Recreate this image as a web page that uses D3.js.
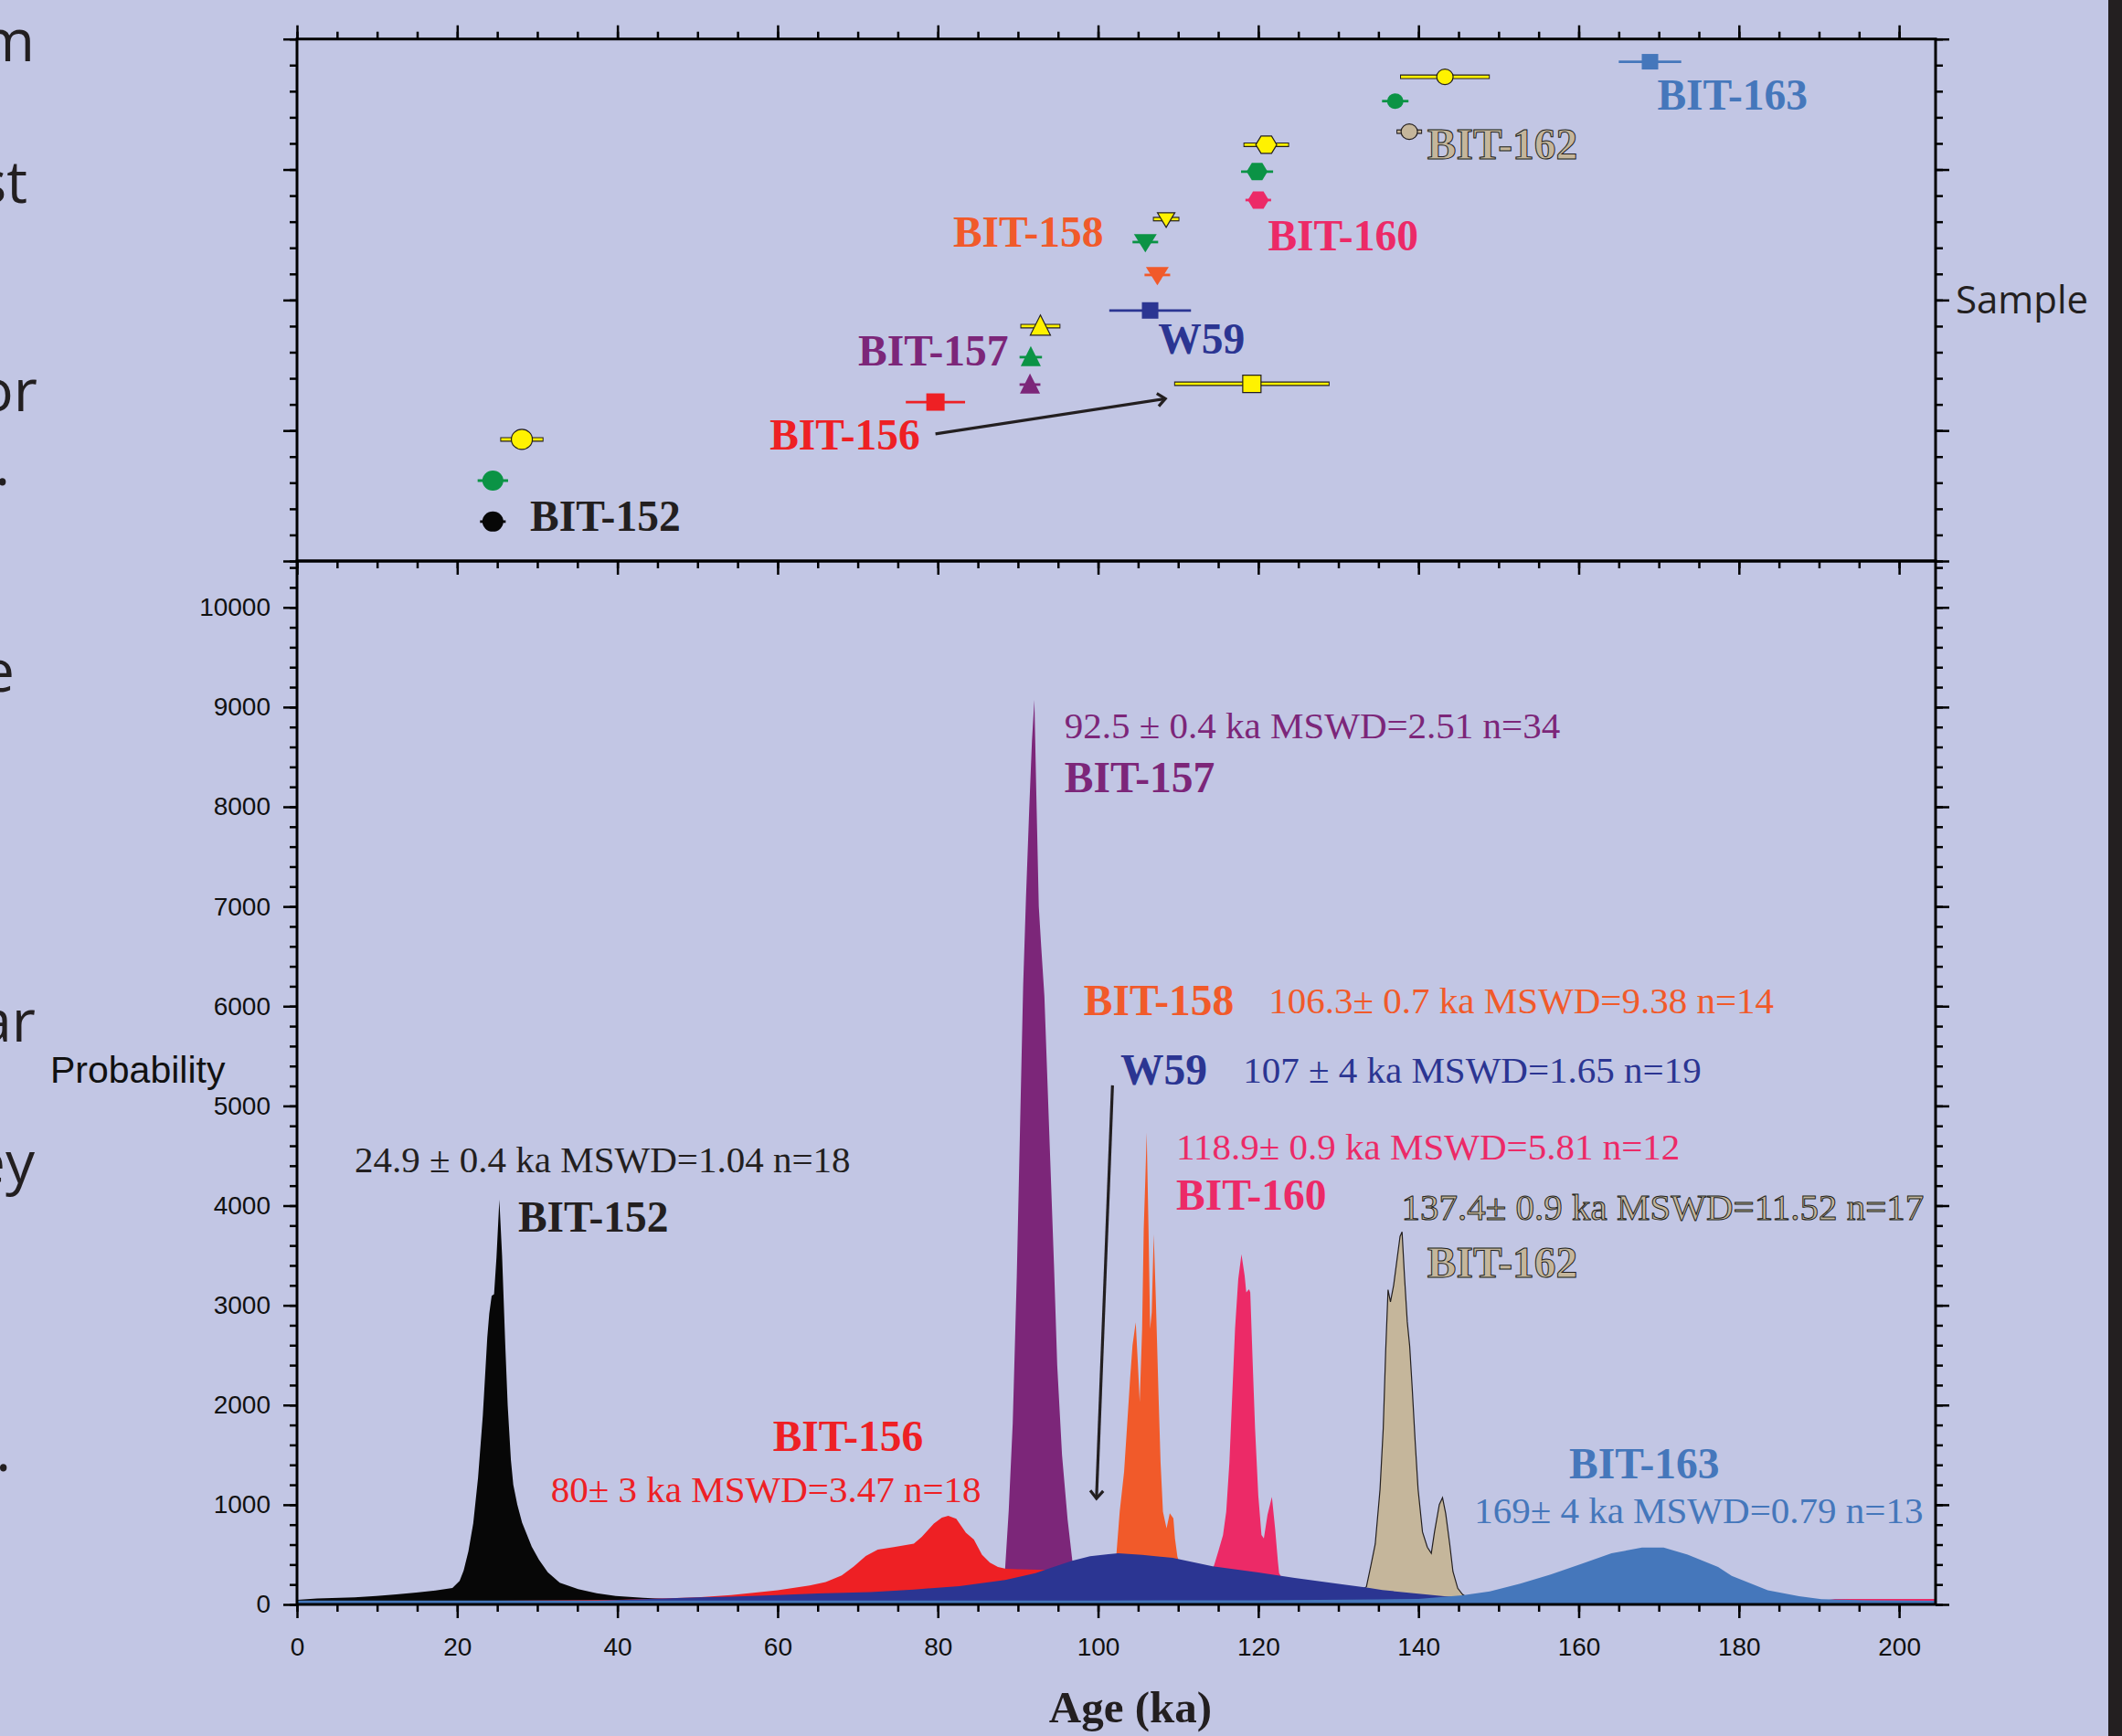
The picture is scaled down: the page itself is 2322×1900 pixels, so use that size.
<!DOCTYPE html>
<html><head><meta charset="utf-8">
<script src="https://cdn.jsdelivr.net/npm/d3@7"></script>
<style>
html,body{margin:0;padding:0;background:#c2c6e4;}
svg{display:block;}
</style></head><body>
<svg id="chart" width="2322" height="1900"></svg>
<script>
// ================= DATA =================
const xMajorTicks = [0,20,40,60,80,100,120,140,160,180,200];
const yMajorTicks = [0,1000,2000,3000,4000,5000,6000,7000,8000,9000,10000];
const sampleNames = ["BIT-152","BIT-156","BIT-157","W59","BIT-158","BIT-160","BIT-162","BIT-163"];

// probability density curves (age ka, probability)
const age152  = [0,2.5,7.2,9.9,12.4,14.9,17.3,19.4,20.3,20.8,21.4,22.0,22.6,23.2,23.75,24.0,24.3,24.6,24.9,25.26,25.6,26.0,26.3,26.7,27.0,27.5,28.1,29.3,30.2,31.3,32.8,35.1,37.4,39.8,43.2,46.2,55,70,100,204.55];
const prob152 = [45,60,70,84,100,119,140,165,235,340,533,814,1270,1900,2673,2917,3094,3112,3480,4060,3500,2600,2000,1450,1200,1000,820,580,450,323,218,154,112,84,67,56,40,25,15,5];

const age156  = [0,20,40,50,54.2,60,64,66,68,69.5,71,72.5,74.5,77,78,79.5,80.5,81.3,82.3,83.5,84.5,85.5,86.5,87.5,88.5,90,93.7,96,100,110,120,140,170,204.55];
const prob156 = [30,35,45,70,94,143,190,225,290,380,485,550,575,610,677,810,870,890,860,720,650,500,420,375,358,352,345,310,250,150,90,50,40,35];

const age157  = [0,80,86,87.5,88.4,88.85,89.35,89.85,90.25,90.65,91.0,91.4,91.75,92.05,92.3,92.6,92.9,93.3,93.7,94.1,94.5,94.9,95.5,96.2,96.8,97.5,98.5,100,110,204.55];
const prob157 = [0,0,20,150,361,945,1822,3284,4745,6206,7083,7960,8662,9071,8100,7000,6600,6100,5200,4300,3400,2400,1500,850,430,250,120,40,0,0];

const age158  = [0,95,100,101.5,102.3,102.7,103.25,103.6,104.0,104.3,104.7,104.96,105.2,105.5,105.7,105.9,106.07,106.3,106.5,106.7,106.95,107.2,107.55,107.8,108.1,108.55,108.95,109.4,109.6,109.9,111,115,204.55];
const prob158 = [0,0,50,200,513,930,1330,1764,2264,2597,2830,2430,2030,2763,3763,4263,4730,3763,2763,2930,3712,3098,2096,1430,930,763,913,863,663,480,200,0,0];

const age160  = [0,108,112,113.5,114.5,115.0,115.6,116.0,116.4,116.75,117.1,117.5,117.9,118.3,118.5,118.85,119.0,119.3,119.6,120.0,120.4,120.7,121.15,121.7,122.1,122.45,122.6,124,127,189,190,192,204.55];
const prob160 = [0,0,60,200,397,530,697,930,1430,2096,2763,3263,3513,3296,3130,3162,3130,2430,1764,1096,697,663,897,1080,763,430,313,120,0,0,30,55,55];

const age162  = [0,128,131,133.5,134.06,134.6,135.2,135.6,135.9,136.2,136.5,136.9,137.3,137.7,137.95,138.25,138.6,138.9,139.2,139.6,139.95,140.5,141.1,141.6,142.0,142.6,143.0,143.4,143.9,144.3,144.9,145.5,147,150];
const prob162 = [0,0,50,177,391,605,1155,1766,2530,3156,3034,3202,3446,3691,3737,3293,2835,2591,2193,1613,1155,727,575,513,727,1002,1070,910,605,330,162,100,20,0];

const ageW59  = [0,20,35,44,50,54.2,60,65,71.6,77,82.7,88.4,92.2,94.1,96.75,99.0,101.3,102.5,105.5,109.3,114.3,120.0,124.55,130.25,133.7,135.5,139.4,143.2,150,160,175,190,204.55];
const probW59 = [5,12,30,55,70,78,95,110,123,150,183,245,315,367,437,483,504,513,498,467,382,321,266,204,168,144,113,82,45,22,10,5,3];

const age163  = [0,20,40,60,80,100,120,135,140,145.5,148.9,152.7,156.5,160.3,164.1,167.9,170.6,173.6,177.4,179.1,183.6,187.5,190.3,195.9,204.55];
const prob163 = [40,40,40,40,40,40,42,50,55,92,131,208,300,406,513,570,570,500,376,286,143,82,53,41,37];

// weighted-mean ages shown in the upper panel (sample, method, age, 2s error, row on the Sample axis)
const ptSample = ["BIT-152","BIT-152","BIT-152","BIT-156","BIT-156","BIT-157","BIT-157","BIT-157","W59","BIT-158","BIT-158","BIT-158","BIT-160","BIT-160","BIT-160","BIT-162","BIT-162","BIT-162","BIT-163"];
const ptMethod = ["own","green","yellow","own","yellow","own","green","yellow","own","own","green","yellow","own","green","yellow","own","green","yellow","own"];
const ptAge    = [24.45,24.45,28.07,79.7,119.2,91.5,91.6,92.8,106.5,107.4,105.9,108.5,120.0,119.85,121.0,138.85,137.1,143.3,168.9];
const ptErr    = [1.6,1.9,2.7,3.7,9.7,1.3,1.4,2.5,5.1,1.6,1.6,1.65,1.6,2.0,2.85,1.6,1.65,5.6,3.9];
const ptRow    = [1.51,3.08,4.66,6.09,6.79,6.76,7.81,9.0,9.6,10.96,12.22,13.1,13.83,14.92,15.95,16.45,17.62,18.55,19.13];

// annotation texts
const statText = {
  "BIT-152":"24.9 ± 0.4 ka MSWD=1.04 n=18",
  "BIT-156":"80± 3 ka MSWD=3.47 n=18",
  "BIT-157":"92.5 ± 0.4 ka MSWD=2.51 n=34",
  "BIT-158":"106.3± 0.7 ka MSWD=9.38 n=14",
  "W59":"107 ± 4 ka MSWD=1.65 n=19",
  "BIT-160":"118.9± 0.9 ka MSWD=5.81 n=12",
  "BIT-162":"137.4± 0.9 ka MSWD=11.52 n=17",
  "BIT-163":"169± 4 ka MSWD=0.79 n=13"
};
const slideFragments = ["m","st","or",".","e","ar","ey","."];

// ================= STYLE / LAYOUT =================
const color = {"BIT-152":"#070707","BIT-156":"#ee2024","BIT-157":"#7c2679","W59":"#2b3592",
  "BIT-158":"#f15a2a","BIT-160":"#ec2a67","BIT-162":"#c5b69b","BIT-163":"#4577bb"};
const textColor = Object.assign({}, color, {"BIT-152":"#231f20"});
const GREEN = "#0b9345", YELLOW = "#fff200", INK = "#231f20";
const SERIF = "'Liberation Serif','Times New Roman',Times,serif";
const SANS = "'Liberation Sans',Arial,Helvetica,sans-serif";
const SLIDE = "'Open Sans','Noto Sans',sans-serif";

const L = 325, R = 2118, T = 42.7, M = 614, B = 1756;
const svg = d3.select("#chart");
svg.append("rect").attr("width",2322).attr("height",1900).attr("fill","#c2c6e4");
svg.append("rect").attr("x",2307).attr("y",0).attr("width",15).attr("height",1900).attr("fill",INK);

const x  = d3.scaleLinear().domain([0,204.55]).range([L,R]);
const yP = d3.scaleLinear().domain([0,10465]).range([B,M]);
const yS = d3.scaleLinear().domain([0,20]).range([M,T]);

// slide text fragments at left edge
const fragPos = [[38,67],[30,222],[41,450],[11,531],[16,757],[39,1140],[38,1295],[12,1610]];
svg.append("g").selectAll("text").data(slideFragments).join("text")
  .attr("x",(d,i)=>fragPos[i][0]).attr("y",(d,i)=>fragPos[i][1])
  .attr("text-anchor","end").attr("font-family",SLIDE).attr("font-size",64).attr("fill",INK).text(d=>d);

// ---------- lower panel: probability curves ----------
svg.append("clipPath").attr("id","clipLow").append("rect")
  .attr("x",L).attr("y",M).attr("width",R-L).attr("height",B-M);
const curves = {
  "BIT-152":[age152,prob152],"BIT-156":[age156,prob156],"BIT-157":[age157,prob157],
  "BIT-158":[age158,prob158],"BIT-160":[age160,prob160],"BIT-162":[age162,prob162],
  "W59":[ageW59,probW59],"BIT-163":[age163,prob163]};
const drawOrder = ["BIT-152","BIT-157","BIT-156","BIT-158","BIT-160","BIT-162","W59","BIT-163"];
const area = d3.area().x(d=>x(d[0])).y0(yP(0)).y1(d=>yP(d[1]));
const gCurves = svg.append("g").attr("clip-path","url(#clipLow)");
drawOrder.forEach(s=>{
  const [a,p] = curves[s];
  const pts = a.map((v,i)=>[v,p[i]]);
  gCurves.append("path").datum(pts).attr("d",area).attr("fill",color[s])
    .attr("stroke", s==="BIT-162" ? INK : "none").attr("stroke-width", s==="BIT-162" ? 1.2 : 0);
});

// ---------- axes ----------
function axis(gen, tr, values, size, fmt){
  const g = svg.append("g").attr("transform",tr)
    .call(gen.tickValues(values).tickSize(size).tickSizeOuter(0).tickFormat(fmt || (()=>"")));
  g.select(".domain").remove();
  g.selectAll("line").attr("stroke","#000").attr("stroke-width",2.5);
  return g;
}
const xMinor = d3.range(0,205,5);
const pMinor = d3.range(0,10465,200);
const sMinor = d3.range(0,21,1);
const sMajor = [0,5,10,15,20];
// lower
axis(d3.axisLeft(yP), `translate(${L},0)`, pMinor, 8);
const gyl = axis(d3.axisLeft(yP).tickPadding(14), `translate(${L},0)`, yMajorTicks, 15, d3.format("d"));
gyl.selectAll("text").attr("font-family",SANS).attr("font-size",28).attr("fill","#111");
axis(d3.axisRight(yP), `translate(${R},0)`, pMinor, 8);
axis(d3.axisRight(yP), `translate(${R},0)`, yMajorTicks, 15);
axis(d3.axisBottom(x), `translate(0,${B})`, xMinor, 8);
const gxb = axis(d3.axisBottom(x).tickPadding(21), `translate(0,${B})`, xMajorTicks, 15, d3.format("d"));
gxb.selectAll("text").attr("font-family",SANS).attr("font-size",28).attr("fill","#111");
axis(d3.axisBottom(x), `translate(0,${M})`, xMinor, 8);
axis(d3.axisBottom(x), `translate(0,${M})`, xMajorTicks, 15);
// upper
axis(d3.axisTop(x), `translate(0,${T})`, xMinor, 8);
axis(d3.axisTop(x), `translate(0,${T})`, xMajorTicks, 15);
axis(d3.axisLeft(yS), `translate(${L},0)`, sMinor, 8);
axis(d3.axisLeft(yS), `translate(${L},0)`, sMajor, 15);
axis(d3.axisRight(yS), `translate(${R},0)`, sMinor, 8);
axis(d3.axisRight(yS), `translate(${R},0)`, sMajor, 15);

// frames
svg.append("rect").attr("x",L).attr("y",T).attr("width",R-L).attr("height",M-T)
  .attr("fill","none").attr("stroke","#000").attr("stroke-width",3);
svg.append("rect").attr("x",L).attr("y",M).attr("width",R-L).attr("height",B-M)
  .attr("fill","none").attr("stroke","#000").attr("stroke-width",3);

// axis titles
svg.append("text").attr("x",55).attr("y",1185).attr("font-family",SANS).attr("font-size",41)
  .attr("fill","#111").text("Probability");
svg.append("text").attr("x",2140).attr("y",yS(10)+15).attr("font-family",SLIDE).attr("font-size",42)
  .attr("fill",INK).text("Sample");
svg.append("text").attr("x",1237).attr("y",1885).attr("text-anchor","middle").attr("font-family",SERIF)
  .attr("font-weight","bold").attr("font-size",49).attr("fill",INK).text("Age (ka)");

// ---------- text helpers ----------
function label(g, txt, px, py, col, bold, anchor){
  const t = g.append("text").attr("x",px).attr("y",py).attr("font-family",SERIF)
    .attr("font-size", bold ? 47.5 : 41).attr("font-weight", bold ? "bold" : "normal")
    .attr("text-anchor", anchor || "start").attr("fill", col).text(txt);
  if (col === color["BIT-162"]) t.attr("stroke",INK).attr("stroke-width",1);
  return t;
}
function arrow(g, a0, v0, a1, v1, ys){
  const X0 = x(a0), Y0 = ys(v0), X1 = x(a1), Y1 = ys(v1);
  g.append("line").attr("x1",X0).attr("y1",Y0).attr("x2",X1).attr("y2",Y1)
    .attr("stroke",INK).attr("stroke-width",3.2);
  const ang = Math.atan2(Y1-Y0, X1-X0), len = 11;
  const p1 = [X1 - len*Math.cos(ang-0.7), Y1 - len*Math.sin(ang-0.7)];
  const p2 = [X1 - len*Math.cos(ang+0.7), Y1 - len*Math.sin(ang+0.7)];
  g.append("path").attr("d",`M${p1}L${X1},${Y1}L${p2}`).attr("fill","none")
    .attr("stroke",INK).attr("stroke-width",3.2).attr("stroke-linejoin","miter");
}

// lower-panel annotations (placed in data units)
const gAnn = svg.append("g");
const lowPlace = {
  "BIT-152":{stat:[7.2,4335,"start"],name:[27.6,3740]},
  "BIT-156":{stat:[31.7,1027,"start"],name:[59.4,1540]},
  "BIT-157":{stat:[95.8,8689,"start"],name:[95.8,8143]},
  "BIT-158":{stat:[121.3,5930,"start"],name:[98.2,5912]},
  "W59":    {stat:[118.1,5234,"start"],name:[102.8,5215]},
  "BIT-160":{stat:[109.75,4459,"start"],name:[109.75,3960]},
  "BIT-162":{stat:[203.1,3859,"end"],name:[141.1,3281]},
  "BIT-163":{stat:[203.0,820,"end"],name:[158.8,1265]}
};
sampleNames.forEach(s=>{
  const p = lowPlace[s];
  label(gAnn, statText[s], x(p.stat[0]), yP(p.stat[1]), textColor[s], false, p.stat[2]);
  label(gAnn, s, x(p.name[0]), yP(p.name[1]), textColor[s], true);
});
arrow(gAnn, 101.8, 5206, 99.8, 1063, yP);

// ---------- upper panel ----------
const gUp = svg.append("g");
const upPlace = {"BIT-152":[29.1,1.16],"BIT-156":[59.0,4.27],"BIT-157":[70.05,7.50],"BIT-158":[81.9,12.05],
  "W59":[107.5,7.95],"BIT-160":[121.2,11.9],"BIT-162":[141.1,15.41],"BIT-163":[169.8,17.30]};
arrow(gUp, 79.7, 4.87, 108.4, 6.22, yS);

const shapeOf = {"BIT-152":"circle","BIT-156":"square","BIT-157":"triUp","W59":"square",
  "BIT-158":"triDown","BIT-160":"hex","BIT-162":"circle","BIT-163":"square"};
const sizeOf = {"BIT-152":[23,22],"BIT-156":[20,19],"BIT-157":[22,22],"W59":[18,18],
  "BIT-158":[25,20],"BIT-160":[23,19],"BIT-162":[18,17],"BIT-163":[18,17]};
function shapePath(shape, w, h){
  switch(shape){
    case "circle": { const rx=w/2, ry=h/2;
      return `M${-rx},0A${rx},${ry} 0 1,0 ${rx},0A${rx},${ry} 0 1,0 ${-rx},0Z`; }
    case "square": return `M${-w/2},${-h/2}h${w}v${h}h${-w}Z`;
    case "triUp": return `M0,${-h*0.55}L${w/2},${h*0.45}L${-w/2},${h*0.45}Z`;
    case "triDown": return `M0,${h*0.57}L${w/2},${-h*0.43}L${-w/2},${-h*0.43}Z`;
    case "hex": return `M${-w/2},0L${-w/4},${-h/2}L${w/4},${-h/2}L${w/2},0L${w/4},${h/2}L${-w/4},${h/2}Z`;
  }
}
ptAge.forEach((a,i)=>{
  const s = ptSample[i], m = ptMethod[i];
  const fill = m==="green" ? GREEN : m==="yellow" ? YELLOW : color[s];
  const outlined = (m==="yellow") || (s==="BIT-162" && m==="own");
  const cy = yS(ptRow[i]);
  if (outlined) gUp.append("line").attr("x1",x(a-ptErr[i])).attr("x2",x(a+ptErr[i]))
      .attr("y1",cy).attr("y2",cy).attr("stroke",INK).attr("stroke-width",5);
  gUp.append("line").attr("x1",x(a-ptErr[i]) + (outlined?1:0)).attr("x2",x(a+ptErr[i]) - (outlined?1:0))
      .attr("y1",cy).attr("y2",cy).attr("stroke",fill).attr("stroke-width", outlined ? 2.6 : 2.8);
  let [w,h] = sizeOf[s];
  if (s==="BIT-158" && m==="yellow"){ w=19; h=16; }
  gUp.append("path").attr("transform",`translate(${x(a)},${cy})`)
    .attr("d",shapePath(shapeOf[s],w,h)).attr("fill",fill)
    .attr("stroke", outlined ? INK : "none").attr("stroke-width", outlined ? 1.2 : 0);
});
sampleNames.forEach(s=>{
  const p = upPlace[s];
  label(gUp, s, x(p[0]), yS(p[1]), textColor[s], true);
});
</script>
</body></html>
